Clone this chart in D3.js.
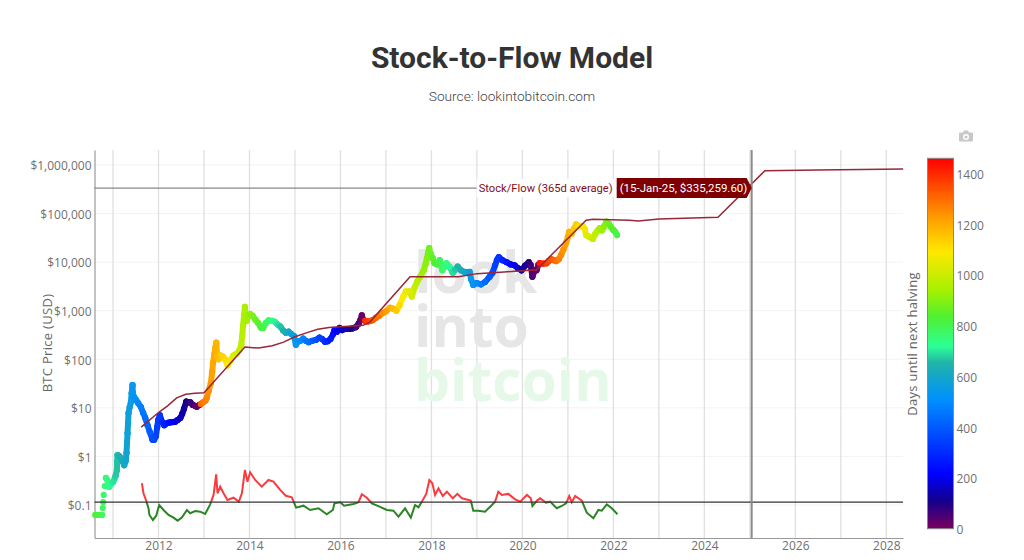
<!DOCTYPE html>
<html>
<head>
<meta charset="utf-8">
<title>Stock-to-Flow Model</title>
<script src="https://cdn.jsdelivr.net/npm/d3@7"></script>
<style>
  html, body { margin: 0; padding: 0; background: #fff; }
  svg { display: block; }
  text { font-family: "Open Sans", sans-serif; }
  .chart-title { font-family: Roboto, sans-serif; font-weight: 700; font-size: 30px; fill: #333; text-anchor: middle; }
  .chart-sub { font-family: Roboto, sans-serif; font-weight: 300; font-size: 13.7px; fill: #444; text-anchor: middle; }
  .tick text { font-size: 12px; fill: #707070; }
  .axis-title { font-size: 13px; fill: #666; text-anchor: middle; letter-spacing: 0.3px; }
  .hover-text { font-family: Roboto, sans-serif; font-size: 11.2px; }
  .hover-value { font-family: Roboto, sans-serif; font-size: 11.5px; }
  .watermark { font-family: "Open Sans", sans-serif; font-weight: 700; font-size: 57px; }
</style>
</head>
<body>
<svg id="chart" width="1024" height="560"></svg>
<script>
// Close price. Dates are decimal years.
const priceDates = [
  2010.609, 2010.653, 2010.72, 2010.763, 2010.774, 2010.785, 2010.796, 2010.818, 2010.844, 2010.873, 2010.917, 2010.96,
  2011.004, 2011.048, 2011.064, 2011.086, 2011.092, 2011.099, 2011.136, 2011.174, 2011.202, 2011.246, 2011.279, 2011.297, 2011.308, 2011.319, 2011.33, 2011.341, 2011.367, 2011.393, 2011.41, 2011.429, 2011.433, 2011.444, 2011.466, 2011.51, 2011.554, 2011.613, 2011.664, 2011.708, 2011.758, 2011.807, 2011.868, 2011.905, 2011.943, 2011.971, 2011.993,
  2012.03, 2012.08, 2012.125, 2012.15, 2012.20, 2012.25, 2012.32, 2012.37, 2012.42, 2012.48, 2012.52, 2012.56, 2012.61, 2012.65, 2012.70, 2012.75, 2012.80, 2012.84, 2012.90,
  2012.93, 2012.98, 2013.03, 2013.06, 2013.10, 2013.15, 2013.18, 2013.20, 2013.23, 2013.25, 2013.27, 2013.29, 2013.32, 2013.36, 2013.41, 2013.46, 2013.52, 2013.58, 2013.65, 2013.72, 2013.78, 2013.82, 2013.84, 2013.86, 2013.88, 2013.90, 2013.92, 2013.94, 2013.97,
  2014.02, 2014.07, 2014.13, 2014.19, 2014.25, 2014.30, 2014.36, 2014.42, 2014.50, 2014.56, 2014.62, 2014.68, 2014.74, 2014.80, 2014.86, 2014.92, 2014.98,
  2015.02, 2015.06, 2015.12, 2015.18, 2015.24, 2015.30, 2015.38, 2015.46, 2015.54, 2015.60, 2015.66, 2015.72, 2015.78, 2015.84, 2015.87, 2015.92, 2015.98,
  2016.04, 2016.10, 2016.18, 2016.26, 2016.34, 2016.40, 2016.44, 2016.47, 2016.50,
  2016.54, 2016.60, 2016.66, 2016.71, 2016.78, 2016.85, 2016.93, 2017.00, 2017.09, 2017.16, 2017.23, 2017.30, 2017.38, 2017.44, 2017.51, 2017.57, 2017.63, 2017.69, 2017.75, 2017.83, 2017.87, 2017.90, 2017.93, 2017.95, 2017.98,
  2018.03, 2018.07, 2018.12, 2018.18, 2018.24, 2018.28, 2018.33, 2018.40, 2018.47, 2018.52, 2018.58, 2018.65, 2018.73, 2018.84, 2018.87, 2018.92, 2019.00,
  2019.09, 2019.18, 2019.28, 2019.34, 2019.40, 2019.44, 2019.48, 2019.56, 2019.65, 2019.74, 2019.83, 2019.90, 2019.98,
  2020.06, 2020.14, 2020.18, 2020.22, 2020.27, 2020.31, 2020.35,
  2020.38, 2020.45, 2020.53, 2020.58, 2020.63, 2020.69, 2020.74, 2020.80, 2020.85, 2020.90, 2020.96, 2021.00, 2021.03, 2021.08, 2021.13, 2021.18, 2021.24, 2021.33, 2021.37, 2021.40, 2021.45, 2021.50, 2021.55, 2021.60, 2021.65, 2021.70, 2021.75, 2021.80, 2021.85, 2021.90, 2021.95, 2022.00, 2022.04, 2022.08
];
const priceValues = [
  0.0623, 0.0623, 0.0623, 0.0623, 0.0867, 0.115, 0.161, 0.246, 0.36, 0.327, 0.235, 0.27,
  0.30, 0.378, 0.415, 0.525, 0.77, 1.07, 1.02, 0.93, 0.81, 0.66, 0.81, 1.18, 1.9, 3.0, 4.8, 7.8, 10.4, 13, 20, 29.5, 21, 16.7, 16.7, 14.4, 12.5, 10.4, 7.8, 6.2, 4.4, 3.2, 2.2, 2.2, 2.6, 4, 5.6,
  7, 5.1, 4.4, 4.6, 4.9, 5, 5.1, 5.2, 5.6, 6.2, 7.5, 9.5, 13.5, 13, 13, 11.5, 11, 10.5, 11.5,
  12, 13, 14, 16, 22, 32, 55, 85, 130, 175, 220, 120, 100, 120, 115, 100, 75, 95, 120, 130, 155, 200, 300, 500, 800, 1200, 800, 620, 800,
  850, 780, 650, 560, 450, 440, 560, 630, 620, 590, 520, 470, 390, 350, 370, 330, 300,
  200, 230, 240, 265, 240, 225, 240, 250, 280, 260, 230, 235, 260, 330, 400, 370, 440,
  400, 420, 420, 430, 460, 540, 650, 800, 650,
  620, 600, 620, 640, 720, 780, 900, 970, 1150, 1100, 1000, 1300, 1950, 2500, 2500, 1950, 3000, 4000, 5000, 6800, 9000, 12000, 16000, 19500, 15000,
  12000, 9500, 9000, 11000, 6800, 8000, 9500, 8000, 6000, 7000, 8100, 6800, 6300, 6300, 4500, 3400, 3700,
  3500, 3900, 5000, 6000, 8600, 11000, 12700, 11000, 10000, 9000, 8600, 7500, 6800,
  8500, 10000, 8800, 5000, 6800, 6800, 8800,
  9500, 9300, 9500, 10500, 11500, 11000, 10500, 11500, 14000, 18000, 25000, 33000, 42000, 38000, 48000, 60000, 55000, 55000, 48000, 36000, 34000, 32000, 30000, 38000, 44000, 50000, 45000, 55000, 68000, 62000, 52000, 46000, 42000, 36000
];
// Days until next halving at each price date, drives the marker colour.
const daysToHalving = [
  840, 824, 799, 784, 780, 776, 771, 763, 754, 743, 727, 712,
  696, 680, 674, 666, 664, 661, 647, 634, 623, 607, 595, 589, 585, 581, 577, 573, 563, 554, 548, 541, 539, 535, 527, 511, 495, 473, 455, 439, 420, 403, 380, 367, 353, 343, 335,
  321, 303, 287, 277, 259, 241, 215, 197, 179, 157, 142, 128, 110, 95, 77, 58, 40, 26, 4,
  1307, 1289, 1270, 1259, 1245, 1227, 1216, 1208, 1197, 1190, 1183, 1175, 1164, 1150, 1132, 1113, 1092, 1070, 1044, 1019, 997, 982, 975, 967, 960, 953, 946, 938, 927,
  909, 891, 869, 847, 825, 807, 785, 763, 734, 712, 690, 668, 646, 624, 602, 580, 558,
  543, 529, 507, 486, 464, 442, 412, 383, 354, 332, 310, 288, 266, 245, 234, 215, 193,
  175, 153, 124, 95, 66, 44, 29, 18, 7,
  1394, 1372, 1350, 1332, 1307, 1281, 1252, 1227, 1194, 1168, 1143, 1117, 1088, 1066, 1040, 1018, 997, 975, 953, 923, 909, 898, 887, 879, 869,
  850, 836, 818, 796, 774, 759, 741, 715, 690, 672, 650, 624, 595, 555, 544, 526, 496,
  464, 431, 394, 372, 350, 336, 321, 292, 259, 226, 193, 168, 139,
  110, 80, 66, 51, 33, 18, 4,
  1427, 1402, 1372, 1354, 1336, 1314, 1296, 1274, 1256, 1238, 1216, 1201, 1190, 1172, 1154, 1136, 1114, 1081, 1066, 1055, 1037, 1019, 1000, 982, 964, 946, 927, 909, 891, 872, 854, 836, 821, 807
];

// Stock/Flow model, 365 day average
const modelDates = [2011.62, 2012.0, 2012.2, 2012.4, 2012.6, 2012.8, 2013.0, 2013.9, 2014.2, 2014.5, 2014.75, 2015.0, 2015.25, 2015.5, 2015.75, 2016.0, 2016.5, 2016.65, 2017.53, 2018.0, 2018.6, 2019.0, 2019.6, 2020.15, 2020.3, 2021.4, 2021.55, 2022.35, 2022.55, 2023.0, 2024.3, 2025.33, 2026.5, 2028.37];
const modelValues = [4, 8, 11, 16, 19, 20, 20.5, 178, 170, 190, 225, 290, 350, 415, 450, 465, 500, 590, 5000, 5000, 5000, 5800, 6300, 6800, 6800, 73000, 76000, 73000, 70000, 77000, 84000, 760000, 790000, 830000];

// Price / model multiple, the red and green line along the bottom
const ratioDates = [
  2011.635, 2011.67, 2011.73, 2011.78, 2011.80, 2011.877, 2011.95, 2012.015, 2012.11, 2012.22, 2012.33, 2012.42, 2012.514, 2012.624, 2012.697, 2012.807, 2012.916,
  2013.026, 2013.136, 2013.21, 2013.268, 2013.297, 2013.356, 2013.43, 2013.516, 2013.648, 2013.767, 2013.833, 2013.90, 2013.956,
  2014.015, 2014.125, 2014.27, 2014.418, 2014.527, 2014.675, 2014.80, 2014.93,
  2015.026, 2015.187, 2015.334, 2015.516, 2015.70, 2015.833, 2015.868, 2015.993,
  2016.08, 2016.286, 2016.396, 2016.47, 2016.58, 2016.69, 2016.86,
  2017.02, 2017.165, 2017.275, 2017.42, 2017.547, 2017.64, 2017.715, 2017.79, 2017.885, 2017.955,
  2018.02, 2018.08, 2018.155, 2018.25, 2018.34, 2018.47, 2018.57, 2018.67, 2018.865, 2018.92,
  2019.03, 2019.18, 2019.33, 2019.40, 2019.47, 2019.55, 2019.69, 2019.84, 2019.95,
  2020.10, 2020.185, 2020.22, 2020.32, 2020.39, 2020.515, 2020.61, 2020.755, 2020.865, 2020.96,
  2021.03, 2021.085, 2021.16, 2021.305, 2021.415, 2021.56, 2021.67, 2021.745, 2021.855, 2021.965, 2022.09
];
const ratioValues = [
  0.28, 0.174, 0.121, 0.0855, 0.0623, 0.0491, 0.0602, 0.1, 0.0789, 0.0623, 0.0548, 0.0475, 0.0548, 0.0789, 0.0675, 0.0752, 0.0728,
  0.0653, 0.103, 0.161, 0.429, 0.174, 0.238, 0.174, 0.127, 0.141, 0.117, 0.174, 0.525, 0.302,
  0.471, 0.327, 0.238, 0.327, 0.302, 0.204, 0.155, 0.144,
  0.088, 0.0967, 0.0789, 0.0855, 0.0644, 0.0789, 0.108, 0.114,
  0.0967, 0.105, 0.114, 0.166, 0.141, 0.108, 0.0922,
  0.0789, 0.0763, 0.0574, 0.0855, 0.0548, 0.1, 0.0897, 0.117, 0.169, 0.327,
  0.28, 0.161, 0.221, 0.153, 0.188, 0.137, 0.169, 0.137, 0.123, 0.0763,
  0.0763, 0.0728, 0.1, 0.117, 0.188, 0.161, 0.169, 0.131, 0.117,
  0.161, 0.137, 0.0953, 0.123, 0.137, 0.112, 0.117, 0.0855, 0.0953, 0.108,
  0.153, 0.114, 0.153, 0.123, 0.0693, 0.0532, 0.0789, 0.0763, 0.103, 0.0855, 0.0644
];
const ratioThreshold = 0.115;

const yearGrid = [2011, 2012, 2013, 2014, 2015, 2016, 2017, 2018, 2019, 2020, 2021, 2022, 2023, 2024, 2025, 2026, 2027, 2028];
const yearLabels = [2012, 2014, 2016, 2018, 2020, 2022, 2024, 2026, 2028];
const priceTicks = [0.1, 1, 10, 100, 1000, 10000, 100000, 1000000];
const priceTickLabels = ['$0.1', '$1', '$10', '$100', '$1,000', '$10,000', '$100,000', '$1,000,000'];
const colorTicks = [0, 200, 400, 600, 800, 1000, 1200, 1400];
const colorStopDays = [0, 110, 215, 509, 654, 719, 837, 942, 1093, 1231, 1461];
const colorStopHues = ['#7a0060', '#14008c', '#0000ff', '#0090ff', '#20b4a8', '#2cff96', '#50f030', '#a8f000', '#ffe800', '#ff9a00', '#ff0000'];

const hoverDate = 2025.04;
const hoverValue = 335259.60;
const hoverName = 'Stock/Flow (365d average)';
const hoverText = '(15-Jan-25, $335,259.60)';

(function () {
  const svg = d3.select('#chart');
  const plot = { left: 94.5, right: 903, top: 150, bottom: 538 };

  const x = d3.scaleLinear().domain([2010.593, 2028.367]).range([plot.left, plot.right]);
  const y = d3.scaleLog().domain([Math.pow(10, -1.68), Math.pow(10, 6.309)]).range([plot.bottom, plot.top]);
  const color = d3.scaleLinear().domain(colorStopDays).range(colorStopHues).clamp(true);

  svg.append('text').attr('class', 'chart-title').attr('x', 512).attr('y', 68).text('Stock-to-Flow Model');
  svg.append('text').attr('class', 'chart-sub').attr('x', 512).attr('y', 101).text('Source: lookintobitcoin.com');

  // Grid
  svg.append('g').selectAll('line').data(priceTicks).join('line')
    .attr('x1', plot.left).attr('x2', plot.right)
    .attr('y1', d => y(d)).attr('y2', d => y(d))
    .attr('stroke', '#f3f3f3').attr('stroke-width', 1);
  svg.append('g').selectAll('line').data(yearGrid).join('line')
    .attr('x1', d => x(d)).attr('x2', d => x(d))
    .attr('y1', plot.top).attr('y2', plot.bottom)
    .attr('stroke', '#e0e0e0').attr('stroke-width', 1.3);

  // Watermark
  const mark = svg.append('g').attr('class', 'watermark');
  mark.append('text').attr('x', 414).attr('y', 293).attr('fill', '#e6e6e6').text('look');
  mark.append('text').attr('x', 414).attr('y', 347).attr('fill', '#e6e6e6').text('into');
  mark.append('text').attr('x', 414).attr('y', 401).attr('fill', '#e6f8e8').text('bitcoin');

  // Axes
  const yAxis = d3.axisLeft(y).tickValues(priceTicks).tickSize(0).tickPadding(3)
    .tickFormat((d, i) => priceTickLabels[i]);
  const yG = svg.append('g').attr('transform', `translate(${plot.left},0)`).call(yAxis);
  yG.select('.domain').attr('stroke', '#999').attr('stroke-width', 1.2);
  yG.selectAll('.tick text').attr('dy', '0.4em');

  const xAxis = d3.axisBottom(x).tickValues(yearLabels).tickSize(0).tickPadding(3)
    .tickFormat(d3.format('d'));
  const xG = svg.append('g').attr('transform', `translate(0,${plot.bottom})`).call(xAxis);
  xG.select('.domain').attr('stroke', '#999').attr('stroke-width', 1.2);

  svg.append('text').attr('class', 'axis-title')
    .attr('transform', `translate(52,${(plot.top + plot.bottom) / 2 - 1}) rotate(-90)`)
    .text('BTC Price (USD)');

  // Price markers. The first few months stay apart as loose dots, from there on they run together.
  const priceG = svg.append('g');
  priceDates.forEach((d, i) => {
    if (i === 0 || priceDates[i - 1] < 2010.84) return;
    priceG.append('line')
      .attr('x1', x(priceDates[i - 1])).attr('y1', y(priceValues[i - 1]))
      .attr('x2', x(d)).attr('y2', y(priceValues[i]))
      .attr('stroke', color(daysToHalving[i]))
      .attr('stroke-width', 6).attr('stroke-linecap', 'round');
  });
  priceG.selectAll('circle').data(priceDates).join('circle')
    .attr('cx', d => x(d))
    .attr('cy', (d, i) => y(priceValues[i]))
    .attr('r', 3.1)
    .attr('fill', (d, i) => color(daysToHalving[i]));

  // Model line
  const modelLine = d3.line().x(d => x(d)).y((d, i) => y(modelValues[i]));
  svg.append('path').datum(modelDates)
    .attr('d', modelLine)
    .attr('fill', 'none').attr('stroke', '#96283a').attr('stroke-width', 1.5);

  // Ratio line: red above the threshold, green under it
  const defs = svg.append('defs');
  defs.append('clipPath').attr('id', 'above').append('rect')
    .attr('x', plot.left).attr('y', plot.top)
    .attr('width', plot.right - plot.left).attr('height', y(ratioThreshold) - plot.top);
  defs.append('clipPath').attr('id', 'below').append('rect')
    .attr('x', plot.left).attr('y', y(ratioThreshold))
    .attr('width', plot.right - plot.left).attr('height', plot.bottom - y(ratioThreshold));
  const ratioLine = d3.line().x(d => x(d)).y((d, i) => y(ratioValues[i]));
  [['above', '#f93a3f'], ['below', '#2b8525']].forEach(([id, hue]) => {
    svg.append('path').datum(ratioDates)
      .attr('d', ratioLine)
      .attr('clip-path', `url(#${id})`)
      .attr('fill', 'none').attr('stroke', hue).attr('stroke-width', 2);
  });

  svg.append('line')
    .attr('x1', plot.left).attr('x2', plot.right)
    .attr('y1', y(ratioThreshold)).attr('y2', y(ratioThreshold))
    .attr('stroke', '#333').attr('stroke-width', 1.2);

  // Hover spikes and labels at the 15 Jan 2025 point
  const hx = x(hoverDate);
  const hy = y(hoverValue);
  svg.append('line').attr('x1', hx).attr('x2', hx).attr('y1', plot.top).attr('y2', plot.bottom)
    .attr('stroke', '#8a8a8a').attr('stroke-width', 2);
  svg.append('line').attr('x1', plot.left).attr('x2', hx).attr('y1', hy).attr('y2', hy)
    .attr('stroke', '#8a8a8a').attr('stroke-width', 1.2);

  const boxLeft = hx - 135;
  const boxRight = hx - 5;
  svg.append('rect').attr('x', boxLeft - 140).attr('y', hy - 9).attr('width', 140).attr('height', 18).attr('fill', '#fff');
  svg.append('text').attr('class', 'hover-text').attr('x', boxLeft - 4).attr('y', hy + 4).attr('text-anchor', 'end')
    .attr('fill', '#7f0d18').text(hoverName);
  svg.append('path')
    .attr('d', `M${boxLeft},${hy - 10}H${boxRight}L${hx},${hy}L${boxRight},${hy + 10}H${boxLeft}Z`)
    .attr('fill', '#7f0000');
  svg.append('text').attr('class', 'hover-value').attr('x', boxLeft + 3).attr('y', hy + 4)
    .attr('fill', '#fff').text(hoverText);

  // Colour bar
  const barY = d3.scaleLinear().domain([0, 1461]).range([528.7, 158.3]);
  const grad = defs.append('linearGradient').attr('id', 'days-grad')
    .attr('x1', 0).attr('y1', 1).attr('x2', 0).attr('y2', 0);
  colorStopDays.forEach((d, i) => {
    grad.append('stop').attr('offset', d / 1461).attr('stop-color', colorStopHues[i]);
  });
  svg.append('rect').attr('x', 927.5).attr('y', barY(1461))
    .attr('width', 26).attr('height', barY(0) - barY(1461))
    .attr('fill', 'url(#days-grad)').attr('stroke', '#888').attr('stroke-width', 1);
  const barAxis = d3.axisRight(barY).tickValues(colorTicks).tickSize(0).tickPadding(3)
    .tickFormat(d3.format('d'));
  const barG = svg.append('g').attr('transform', 'translate(953.5,0)').call(barAxis);
  barG.select('.domain').remove();
  barG.selectAll('.tick text').attr('dy', '0.4em');
  svg.append('text').attr('class', 'axis-title')
    .attr('transform', 'translate(917,344) rotate(-90)')
    .text('Days until next halving');

  // Camera icon of the mode bar
  svg.append('path')
    .attr('transform', 'translate(959,130)')
    .attr('fill', '#c8c8c8').attr('fill-rule', 'evenodd')
    .attr('d', 'M1,2.5H4L5,0.5H9L10,2.5H13Q14,2.5 14,3.5V10.5Q14,11.5 13,11.5H1Q0,11.5 0,10.5V3.5Q0,2.5 1,2.5ZM7,4A3,3 0 1 0 7,10A3,3 0 1 0 7,4ZM7,5.4A1.6,1.6 0 1 1 7,8.6A1.6,1.6 0 1 1 7,5.4Z');
})();
</script>
</body>
</html>
